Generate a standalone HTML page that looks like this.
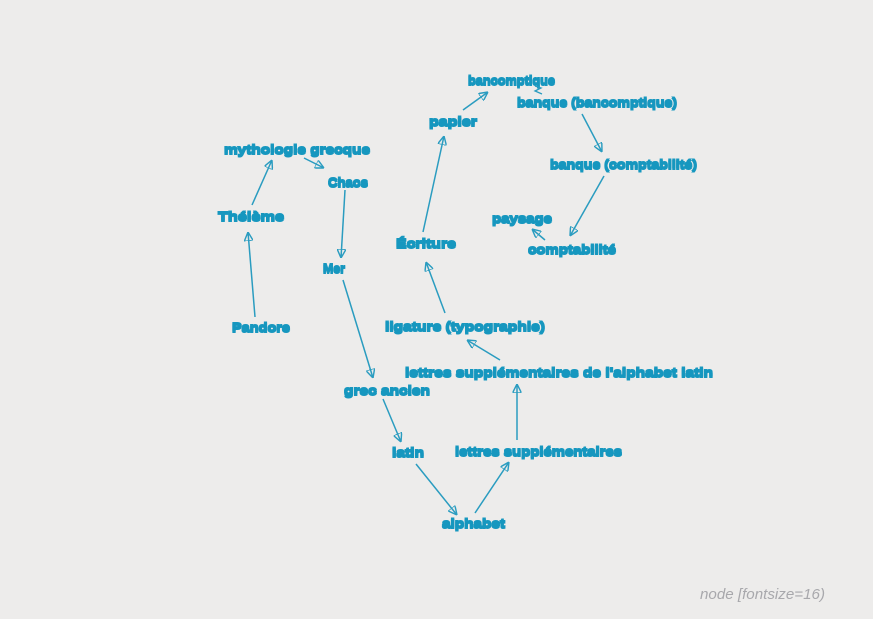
<!DOCTYPE html>
<html><head><meta charset="utf-8"><style>
html,body{margin:0;padding:0;background:#edeceb;}
svg{display:block;}
text{font-family:"Liberation Sans",sans-serif;font-weight:bold;font-size:12px;fill:#1897bf;stroke:#1897bf;stroke-width:1px;}
line{stroke:#2a9cc0;stroke-width:1.5;}
</style></head><body>
<svg width="873" height="619" viewBox="0 0 873 619" xmlns="http://www.w3.org/2000/svg">
<defs>
<marker id="a" viewBox="0 0 10 10" refX="10" refY="5" markerWidth="9" markerHeight="9" orient="auto" markerUnits="userSpaceOnUse">
<path d="M0,0 L10,5 L0,10 Z" fill="none" stroke="#2a9cc0" stroke-width="1.6"/>
</marker>
<filter id="s"><feOffset dx="0" dy="1.5" in="SourceGraphic" result="o"/><feMerge><feMergeNode in="o"/><feMergeNode in="SourceGraphic"/></feMerge></filter>
</defs>
<g filter="url(#s)">
<text x="468" y="84" textLength="87" lengthAdjust="spacingAndGlyphs">bancomptique</text>
<text x="517" y="106" textLength="160" lengthAdjust="spacingAndGlyphs">banque (bancomptique)</text>
<text x="429" y="125" textLength="48" lengthAdjust="spacingAndGlyphs">papier</text>
<text x="224" y="153" textLength="146" lengthAdjust="spacingAndGlyphs">mythologie grecque</text>
<text x="328" y="186" textLength="40" lengthAdjust="spacingAndGlyphs">Chaos</text>
<text x="550" y="168" textLength="147" lengthAdjust="spacingAndGlyphs">banque (comptabilité)</text>
<text x="218" y="220" textLength="66" lengthAdjust="spacingAndGlyphs">Thélème</text>
<text x="492" y="222" textLength="60" lengthAdjust="spacingAndGlyphs">paysage</text>
<text x="396" y="247" textLength="60" lengthAdjust="spacingAndGlyphs">Écriture</text>
<text x="528" y="253" textLength="88" lengthAdjust="spacingAndGlyphs">comptabilité</text>
<text x="323" y="272" textLength="22" lengthAdjust="spacingAndGlyphs">Mer</text>
<text x="232" y="331" textLength="58" lengthAdjust="spacingAndGlyphs">Pandore</text>
<text x="385" y="330" textLength="160" lengthAdjust="spacingAndGlyphs">ligature (typographie)</text>
<text x="405" y="376" textLength="308" lengthAdjust="spacingAndGlyphs">lettres supplémentaires de l'alphabet latin</text>
<text x="344" y="394" textLength="86" lengthAdjust="spacingAndGlyphs">grec ancien</text>
<text x="392" y="456" textLength="32" lengthAdjust="spacingAndGlyphs">latin</text>
<text x="455" y="455" textLength="167" lengthAdjust="spacingAndGlyphs">lettres supplémentaires</text>
<text x="442" y="527" textLength="63" lengthAdjust="spacingAndGlyphs">alphabet</text>
</g>
<g marker-end="url(#a)">
<line x1="255" y1="317" x2="248" y2="232"/>
<line x1="252" y1="205" x2="272" y2="160"/>
<line x1="304" y1="158" x2="324" y2="168"/>
<line x1="345" y1="190" x2="341" y2="258"/>
<line x1="343" y1="280" x2="373" y2="378"/>
<line x1="383" y1="399" x2="401" y2="442"/>
<line x1="416" y1="464" x2="457" y2="515"/>
<line x1="475" y1="513" x2="509" y2="462"/>
<line x1="517" y1="440" x2="517" y2="384"/>
<line x1="500" y1="360" x2="467" y2="340"/>
<line x1="445" y1="313" x2="426" y2="262"/>
<line x1="423" y1="232" x2="444" y2="136"/>
<line x1="463" y1="110" x2="488" y2="92"/>
<line x1="582" y1="114" x2="602" y2="152"/>
<line x1="604" y1="176" x2="570" y2="236"/>
<line x1="545" y1="240" x2="532" y2="229"/>
</g>
<path d="M535,86 L541,88 L535,91 L542,94" fill="none" stroke="#2a9cc0" stroke-width="1.3"/>
<text x="700" y="599" style="font-family:'Liberation Sans',sans-serif;font-weight:normal;font-size:15px;fill:#a8a8ac;stroke:none;font-style:italic" textLength="125" lengthAdjust="spacingAndGlyphs">node [fontsize=16)</text>
</svg>
</body></html>
